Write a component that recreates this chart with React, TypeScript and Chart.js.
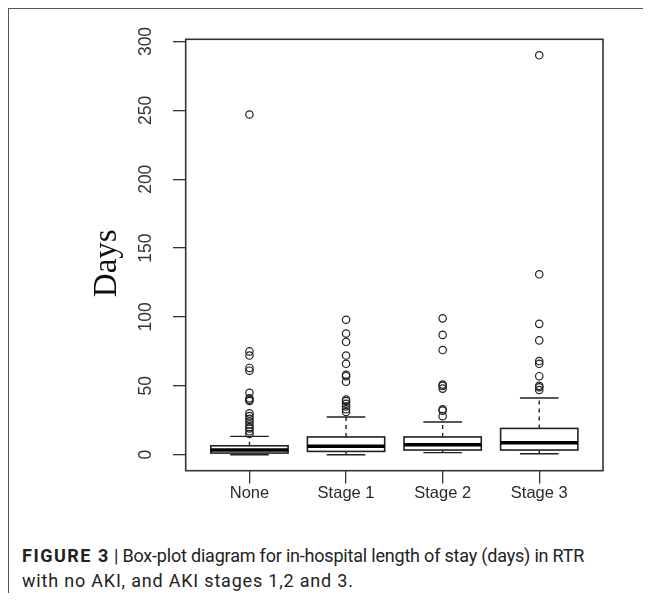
import React, { useEffect, useRef } from "react";
import { Chart, registerables } from "chart.js";

Chart.register(...registerables);

const categories = ["None", "Stage 1", "Stage 2", "Stage 3"];
const whiskerLow = [0, 0, 1.5, 0.7];
const q1 = [1.2, 2.4, 3.4, 3.4];
const medians = [3.4, 6.1, 7.3, 8.7];
const q3 = [6.5, 12.9, 12.9, 19.1];
const whiskerHigh = [13.3, 27.4, 23.8, 41.2];
const outliersNone = [15, 17, 19, 20, 22, 24, 26, 28, 30, 39, 40, 41, 45, 61, 63, 72, 75, 247];
const outliersStage1 = [31, 33, 35, 37, 39, 40, 53, 57, 58, 66, 72, 82, 88, 98];
const outliersStage2 = [28, 32, 33, 48, 50, 51, 76, 87, 99];
const outliersStage3 = [47, 49, 50, 57, 66, 68, 83, 95, 131, 290];
const outliers = [outliersNone, outliersStage1, outliersStage2, outliersStage3];
const yTicks = [0, 50, 100, 150, 200, 250, 300];

const LINE = "#222";

const boxPlugin = {
  id: "boxplot",
  beforeDatasetsDraw(chart: any) {
    const ctx = chart.ctx;
    const xs = chart.scales.x;
    const ys = chart.scales.y;
    const half = xs.getPixelForValue(0.4) - xs.getPixelForValue(0);
    ctx.save();
    ctx.strokeStyle = LINE;
    categories.forEach((_, i) => {
      const cx = xs.getPixelForValue(i + 1);
      const yq1 = ys.getPixelForValue(q1[i]);
      const yq3 = ys.getPixelForValue(q3[i]);
      const ym = ys.getPixelForValue(medians[i]);
      const ylo = ys.getPixelForValue(whiskerLow[i]);
      const yhi = ys.getPixelForValue(whiskerHigh[i]);
      ctx.lineWidth = 1.4;
      ctx.setLineDash([4, 4]);
      ctx.beginPath();
      ctx.moveTo(cx, yq3);
      ctx.lineTo(cx, yhi);
      ctx.moveTo(cx, yq1);
      ctx.lineTo(cx, ylo);
      ctx.stroke();
      ctx.setLineDash([]);
      ctx.beginPath();
      ctx.moveTo(cx - half / 2, yhi);
      ctx.lineTo(cx + half / 2, yhi);
      ctx.moveTo(cx - half / 2, ylo);
      ctx.lineTo(cx + half / 2, ylo);
      ctx.stroke();
      ctx.lineWidth = 1.6;
      ctx.fillStyle = "#fff";
      ctx.fillRect(cx - half, yq3, 2 * half, yq1 - yq3);
      ctx.strokeRect(cx - half, yq3, 2 * half, yq1 - yq3);
      ctx.lineWidth = 3.5;
      ctx.strokeStyle = "#000";
      ctx.beginPath();
      ctx.moveTo(cx - half, ym);
      ctx.lineTo(cx + half, ym);
      ctx.stroke();
      ctx.strokeStyle = LINE;
    });
    ctx.restore();
  },
  afterDraw(chart: any) {
    const { ctx, chartArea } = chart;
    ctx.save();
    ctx.strokeStyle = "#333";
    ctx.lineWidth = 1.6;
    ctx.strokeRect(chartArea.left, chartArea.top, chartArea.right - chartArea.left, chartArea.bottom - chartArea.top);
    ctx.restore();
  },
};

export default function App() {
  const ref = useRef<HTMLCanvasElement>(null);
  useEffect(() => {
    if (!ref.current) return;
    const points: { x: number; y: number }[] = [];
    outliers.forEach((arr, i) => arr.forEach((v) => points.push({ x: i + 1, y: v })));
    const chart = new Chart(ref.current, {
      type: "scatter",
      data: {
        datasets: [
          {
            data: points,
            pointStyle: "circle",
            pointRadius: 3.7,
            pointBorderWidth: 1.2,
            pointBackgroundColor: "rgba(0,0,0,0)",
            pointBorderColor: LINE,
          } as any,
        ],
      },
      options: {
        responsive: false,
        animation: false,
        events: [],
        layout: { padding: { left: 0, top: 30.3, right: 48, bottom: 0.3 } },
        plugins: { legend: { display: false }, tooltip: { enabled: false }, title: { display: false } },
        scales: {
          x: {
            type: "linear",
            min: 0.34,
            max: 4.66,
            afterBuildTicks: (s: any) => {
              s.ticks = categories.map((_, i) => ({ value: i + 1 }));
            },
            afterFit: (s: any) => {
              s.height = 38;
            },
            grid: { drawOnChartArea: false, tickLength: 12.7, color: "#333", lineWidth: 1.3 },
            border: { display: false },
            ticks: {
              callback: (v: any) => categories[Math.round(Number(v)) - 1] ?? "",
              font: { family: "Liberation Sans", size: 16.5 },
              color: "#2a2a2a",
              padding: 0,
              maxRotation: 0,
              minRotation: 0,
            },
          },
          y: {
            type: "linear",
            min: -11.6,
            max: 301.6,
            afterBuildTicks: (s: any) => {
              s.ticks = yTicks.map((v) => ({ value: v }));
            },
            afterFit: (s: any) => {
              s.width = 176.7;
            },
            grid: { drawOnChartArea: false, tickLength: 12.7, color: "#333", lineWidth: 1.3 },
            border: { display: false },
            ticks: {
              callback: (v: any) => String(v),
              font: { family: "Liberation Sans", size: 17.5 },
              color: "#333",
              padding: 12,
              minRotation: 90,
              maxRotation: 90,
              crossAlign: "center",
            },
            title: {
              display: true,
              text: "Days  ",
              font: { family: "Liberation Serif", size: 33 },
              color: "#111",
              padding: { top: 79, bottom: 0 },
            },
          },
        },
      } as any,
      plugins: [boxPlugin],
    });
    return () => chart.destroy();
  }, []);

  return (
    <div style={{ borderTop: "1px solid #555", borderLeft: "1px solid #555" }}>
      <canvas ref={ref} width={642} height={500} style={{ display: "block", width: 642, height: 500 }} />
      <div
        style={{
          paddingLeft: 13,
          marginTop: 34,
          fontFamily: "Roboto, 'Liberation Sans', sans-serif",
          fontSize: 18,
          lineHeight: "25px",
          color: "#222",
        }}
      >
        <div style={{ whiteSpace: "nowrap", letterSpacing: -0.2 }}>
          <b style={{ letterSpacing: 1.5 }}>FIGURE 3</b> | Box-plot diagram for in-hospital length of stay (days) in RTR
        </div>
        <div style={{ letterSpacing: 0.8, whiteSpace: "nowrap" }}>with no AKI, and AKI stages 1,2 and 3.</div>
      </div>
    </div>
  );
}
